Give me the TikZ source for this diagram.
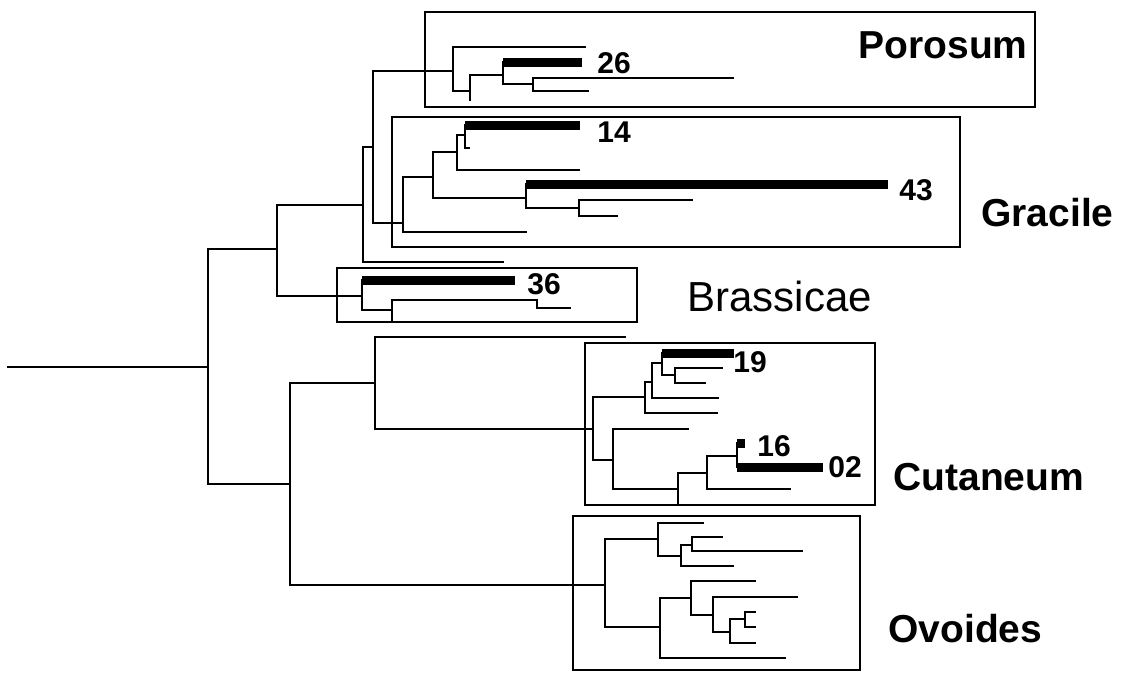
\documentclass[tikz,border=0pt]{standalone}
\usepackage{fontspec}
\setmainfont{Liberation Sans}
\begin{document}
\begin{tikzpicture}[x=0.5pt, y=-0.5pt,
  branch/.style={line width=0.9pt, line cap=rect},
  bar/.style={line width=4.5pt},
  groupbox/.style={line width=1.3pt},
  num/.style={font=\fontsize{15}{15}\selectfont\bfseries, inner sep=0pt, anchor=west},
  clade/.style={font=\fontsize{19.5}{20}\selectfont\bfseries, inner sep=0pt}]

\useasboundingbox (0,0) rectangle (1132,677);

% ROOT
\draw[branch] (8,367) -- (208,367);
\draw[branch] (277,249) -- (208,249) -- (208,484) -- (290,484);

% UPPER CLADE
\begin{scope}
  %backbone
  \draw[branch] (363,205) -- (277,205) -- (277,296) -- (362,296);
  \draw[branch] (373,147) -- (363,147) -- (363,262) -- (503,262);
  \draw[branch] (453,71) -- (373,71) -- (373,223) -- (403,223);

  %porosum
  \draw[groupbox] (425,12) rectangle (1035,107);
  \draw[branch] (585,47) -- (453,47) -- (453,91) -- (470,91);
  \draw[branch] (503,75) -- (470,75) -- (470,100);
  \draw[branch] (503,62) -- (503,84) -- (533,84);
  \draw[branch] (733,78) -- (533,78) -- (533,91) -- (588,91);
  \draw[bar] (503,62) -- (582,62);
  \node[num] (n26) at (597,63) {26};
  \node[clade, anchor=base east] (porosum) at (1028,58) {Porosum};

  %gracile
  \draw[groupbox] (392,117) rectangle (960,247);
  \draw[branch] (433,177) -- (403,177) -- (403,232) -- (526,232);
  \draw[branch] (457,152) -- (433,152) -- (433,198) -- (526,198);
  \draw[branch] (465,135) -- (457,135) -- (457,170) -- (579,170);
  \draw[branch] (465,125) -- (465,148) -- (469,148);
  \draw[branch] (526,184) -- (526,208) -- (579,208);
  \draw[branch] (692,200) -- (579,200) -- (579,216) -- (617,216);
  \draw[bar] (465,125) -- (580,125);
  \draw[bar] (526,184) -- (888,184);
  \node[num] (n14) at (597,132) {14};
  \node[num] (n43) at (899,190) {43};
  \node[clade, anchor=base west] (gracile) at (981,226) {Gracile};

  %brassicae
  \draw[groupbox] (337,268) rectangle (637,322);
  \draw[branch] (362,280) -- (362,310) -- (392,310);
  \draw[branch] (392,322) -- (392,300) -- (537,300) -- (537,308) -- (570,308);
  \draw[bar] (362,280) -- (515,280);
  \node[num] (n36) at (527,284) {36};
  \node[clade, anchor=base west, font=\fontsize{21}{22}\selectfont] (brassicae) at (687,311) {Brassicae};
\end{scope}

% LOWER CLADE
\begin{scope}
  %backbone
  \draw[branch] (375,383) -- (290,383) -- (290,585) -- (605,585);
  \draw[branch] (625,337) -- (375,337) -- (375,429) -- (593,429);

  %cutaneum
  \draw[groupbox] (585,343) rectangle (875,505);
  \draw[branch] (645,397) -- (593,397) -- (593,460) -- (613,460);
  \draw[branch] (652,382) -- (645,382) -- (645,413) -- (717,413);
  \draw[branch] (662,363) -- (652,363) -- (652,398) -- (718,398);
  \draw[branch] (662,353) -- (662,375) -- (675,375);
  \draw[branch] (722,368) -- (675,368) -- (675,383) -- (705,383);
  \draw[branch] (688,429) -- (613,429) -- (613,489) -- (678,489);
  \draw[branch] (707,473) -- (678,473) -- (678,505);
  \draw[branch] (737,456) -- (707,456) -- (707,489) -- (790,489);
  \draw[branch] (737,443) -- (737,467);
  \draw[bar] (662,353) -- (734,353);
  \draw[bar] (737,443) -- (745,443);
  \draw[bar] (737,467) -- (823,467);
  \node[num] (n19) at (733,362) {19};
  \node[num] (n16) at (757,446) {16};
  \node[num] (n02) at (828,467) {02};
  \node[clade, anchor=base west] (cutaneum) at (893,490) {Cutaneum};

  %ovoides
  \draw[groupbox] (573,516) rectangle (860,670);
  \draw[branch] (658,539) -- (605,539) -- (605,627) -- (660,627);
  \draw[branch] (703,523) -- (658,523) -- (658,556) -- (681,556);
  \draw[branch] (692,545) -- (681,545) -- (681,566) -- (733,566);
  \draw[branch] (722,537) -- (692,537) -- (692,551) -- (802,551);
  \draw[branch] (691,598) -- (660,598) -- (660,658) -- (785,658);
  \draw[branch] (755,581) -- (691,581) -- (691,615) -- (713,615);
  \draw[branch] (797,597) -- (713,597) -- (713,632) -- (730,632);
  \draw[branch] (745,619) -- (730,619) -- (730,643) -- (755,643);
  \draw[branch] (755,612) -- (745,612) -- (745,627) -- (755,627);
  \node[clade, anchor=base west] (ovoides) at (888,642) {Ovoides};
\end{scope}

\end{tikzpicture}
\end{document}
